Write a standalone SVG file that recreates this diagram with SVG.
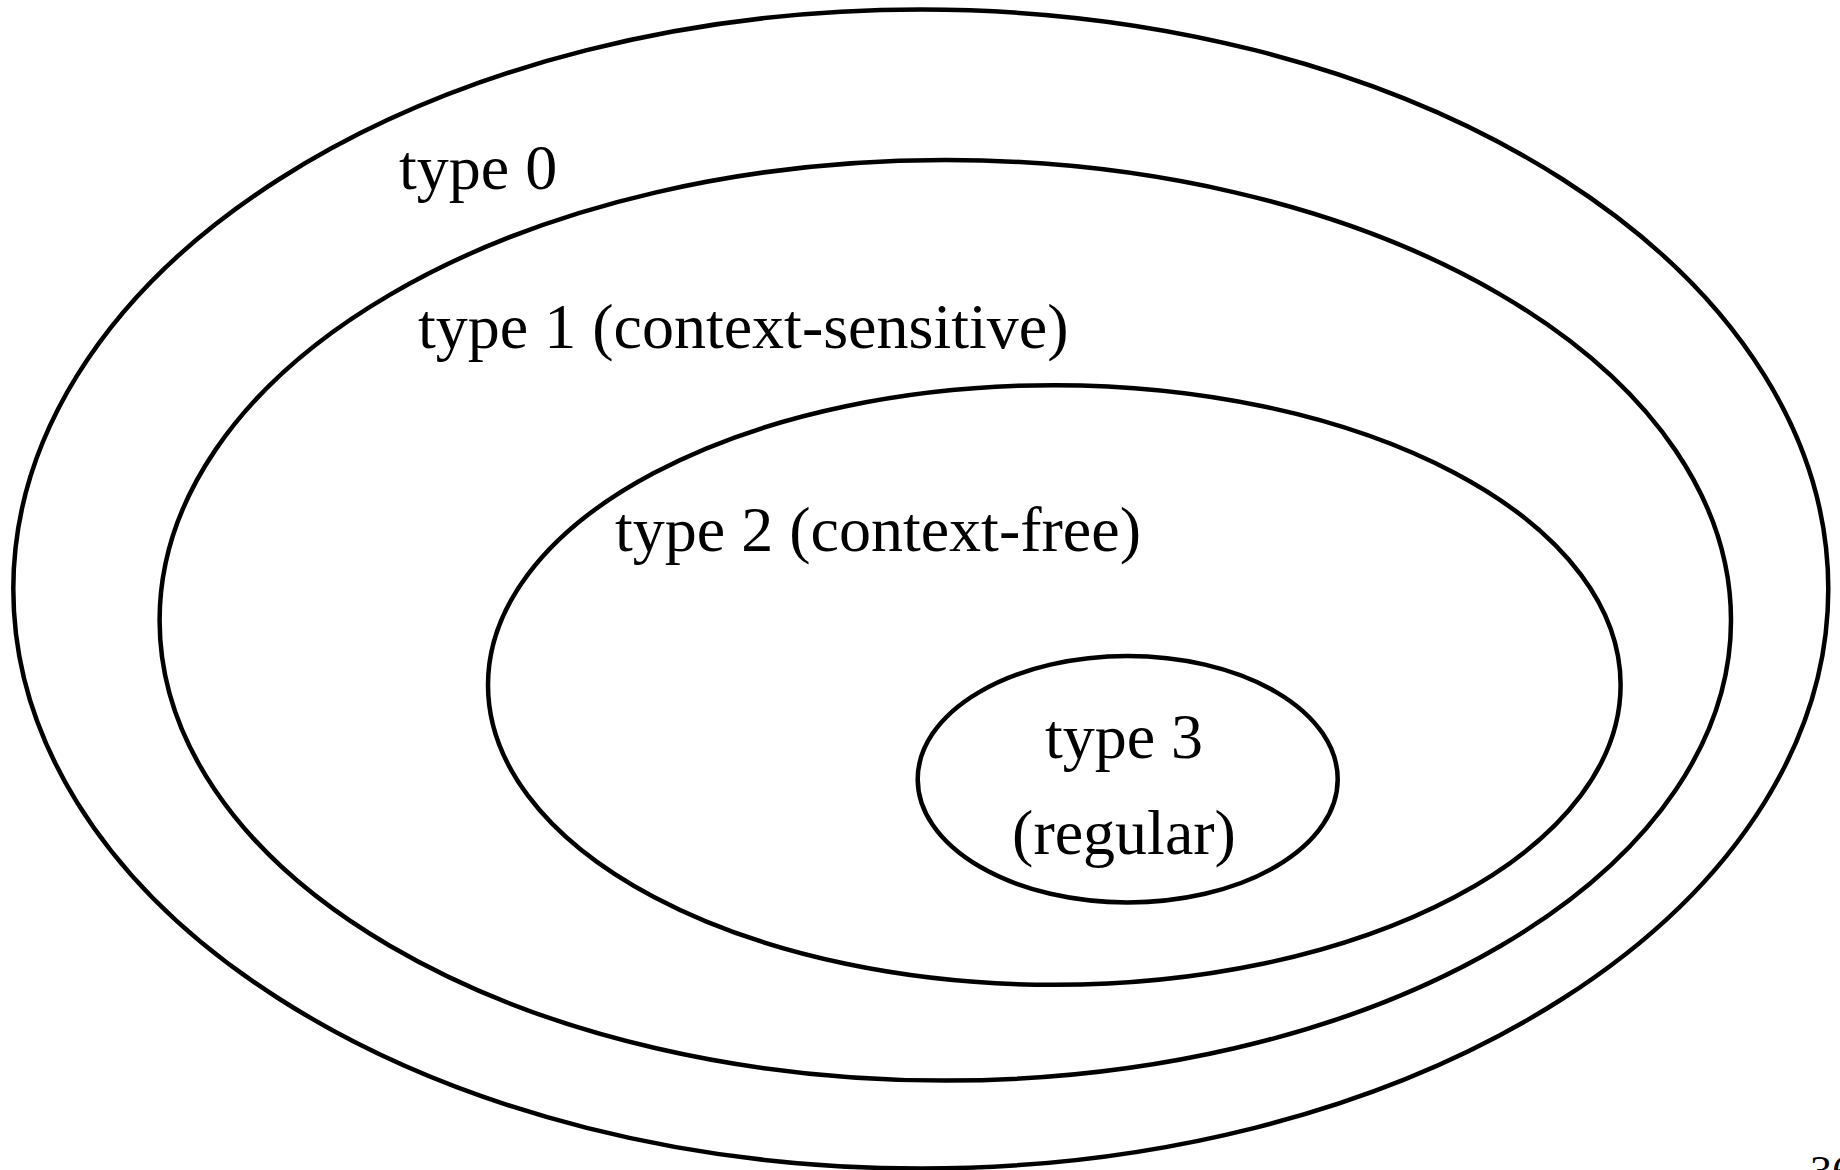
<svg xmlns="http://www.w3.org/2000/svg" width="1840" height="1170" viewBox="0 0 1840 1170">
<style>
.set{fill:none;stroke:#000;stroke-width:4.5}
.lbl{font-family:"Liberation Serif","Times New Roman",serif;font-size:64px;fill:#000}
</style>
<rect width="1840" height="1170" fill="#fff"/>
<g id="type0">
<ellipse class="set" cx="920.8" cy="589" rx="907.5" ry="579.5"/>
<text class="lbl" x="399" y="189">type 0</text>
</g>
<g id="type1">
<ellipse class="set" cx="945.3" cy="620.3" rx="785.7" ry="460.3"/>
<text class="lbl" x="418" y="348">type 1 (context-sensitive)</text>
</g>
<g id="type2">
<ellipse class="set" cx="1054.3" cy="685" rx="566.3" ry="299.8"/>
<text class="lbl" x="615" y="551">type 2 (context-free)</text>
</g>
<g id="type3">
<ellipse class="set" cx="1127.7" cy="779.2" rx="210" ry="123.2"/>
<text class="lbl" x="1124" y="758" text-anchor="middle">type 3</text>
<text class="lbl" x="1124" y="854" text-anchor="middle">(regular)</text>
</g>
<g id="connectors"></g>
<text x="1810" y="1186" style="font-family:'Liberation Serif','Times New Roman',serif;font-size:44px">36</text>
</svg>
